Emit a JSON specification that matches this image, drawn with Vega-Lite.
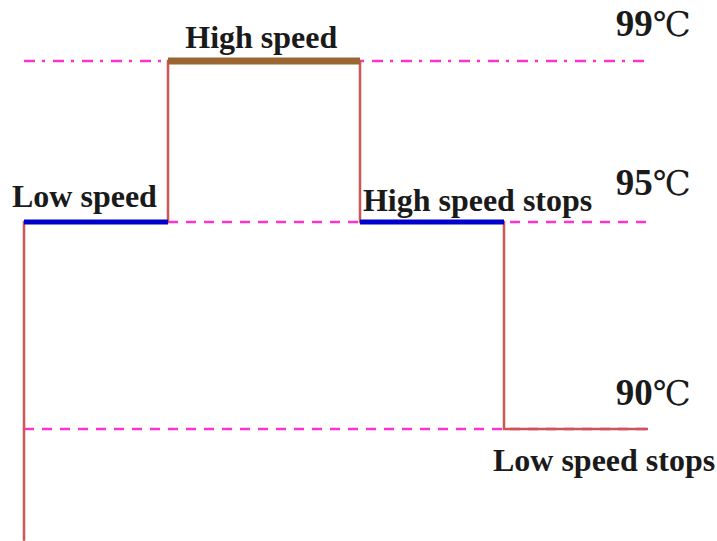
{
  "$schema": "https://vega.github.io/schema/vega-lite/v6.json",
  "width": 717,
  "height": 541,
  "padding": 0,
  "autosize": {"type": "none"},
  "background": "white",
  "config": {"view": {"stroke": null}},
  "datasets": {
    "refs": [
      {"temp": 99, "style": "dashdot", "t0": 0, "t1": 13},
      {"temp": 95, "style": "dashed", "t0": 0, "t1": 13},
      {"temp": 90, "style": "dashed", "t0": 0, "t1": 13}
    ],
    "steps": [
      {"i": 0, "t": 0, "temp": 87.3},
      {"i": 1, "t": 0, "temp": 95},
      {"i": 2, "t": 3, "temp": 95},
      {"i": 3, "t": 3, "temp": 99},
      {"i": 4, "t": 7, "temp": 99},
      {"i": 5, "t": 7, "temp": 95},
      {"i": 6, "t": 10, "temp": 95},
      {"i": 7, "t": 10, "temp": 90},
      {"i": 8, "t": 13, "temp": 90}
    ],
    "phases": [
      {"phase": "low", "t0": 0, "t1": 3, "temp": 95},
      {"phase": "high", "t0": 3, "t1": 7, "temp": 99},
      {"phase": "low", "t0": 7, "t1": 10, "temp": 95}
    ],
    "labels": [
      {"label": "High speed", "t": 3.36, "temp": 99.32},
      {"label": "Low speed", "t": -0.25, "temp": 95.37},
      {"label": "High speed stops", "t": 7.06, "temp": 95.27},
      {"label": "Low speed stops", "t": 9.77, "temp": 88.99}
    ],
    "temps": [
      {"num": "99", "unit": "℃", "t": 13.1, "temp": 99.63},
      {"num": "95", "unit": "℃", "t": 13.1, "temp": 95.67},
      {"num": "90", "unit": "℃", "t": 13.1, "temp": 90.58}
    ]
  },
  "encoding": {},
  "layer": [
    {
      "data": {"name": "refs"},
      "mark": {"type": "rule", "color": "#ff33cc", "strokeWidth": 2.5},
      "encoding": {
        "x": {"field": "t0", "type": "quantitative", "scale": {"domain": [-0.5, 14.4375], "nice": false, "zero": false}, "axis": null},
        "x2": {"field": "t1"},
        "y": {"field": "temp", "type": "quantitative", "scale": {"domain": [90, 95, 99], "range": [429, 222, 61], "nice": false, "zero": false}, "axis": null},
        "strokeDash": {"field": "style", "type": "nominal", "scale": {"domain": ["dashdot", "dashed"], "range": [[11, 7, 3, 8], [10, 8]]}, "legend": null}
      }
    },
    {
      "data": {"name": "steps"},
      "mark": {"type": "line", "color": "#cd5555", "strokeWidth": 2.5},
      "encoding": {
        "x": {"field": "t", "type": "quantitative"},
        "y": {"field": "temp", "type": "quantitative"},
        "order": {"field": "i", "type": "quantitative"}
      }
    },
    {
      "data": {"name": "phases"},
      "mark": {"type": "rule"},
      "encoding": {
        "x": {"field": "t0", "type": "quantitative"},
        "x2": {"field": "t1"},
        "y": {"field": "temp", "type": "quantitative"},
        "color": {"field": "phase", "type": "nominal", "scale": {"domain": ["low", "high"], "range": ["#0000cc", "#9c6633"]}, "legend": null},
        "strokeWidth": {"field": "phase", "type": "nominal", "scale": {"domain": ["low", "high"], "range": [5, 7]}, "legend": null}
      }
    },
    {
      "data": {"name": "labels"},
      "mark": {"type": "text", "font": "Liberation Serif", "fontWeight": "bold", "fontSize": 32, "color": "#1a1a1a", "baseline": "alphabetic", "align": "left"},
      "encoding": {
        "x": {"field": "t", "type": "quantitative"},
        "y": {"field": "temp", "type": "quantitative"},
        "text": {"field": "label"}
      }
    },
    {
      "data": {"name": "temps"},
      "mark": {"type": "text", "font": "Liberation Serif", "fontWeight": "bold", "fontSize": 37, "color": "#1a1a1a", "baseline": "alphabetic", "align": "right"},
      "encoding": {
        "x": {"field": "t", "type": "quantitative"},
        "y": {"field": "temp", "type": "quantitative"},
        "text": {"field": "num"}
      }
    },
    {
      "data": {"name": "temps"},
      "mark": {"type": "text", "font": "DejaVu Serif", "fontWeight": "normal", "fontSize": 34, "color": "#1a1a1a", "baseline": "alphabetic", "align": "left"},
      "encoding": {
        "x": {"field": "t", "type": "quantitative"},
        "y": {"field": "temp", "type": "quantitative"},
        "text": {"field": "unit"}
      }
    }
  ]
}
